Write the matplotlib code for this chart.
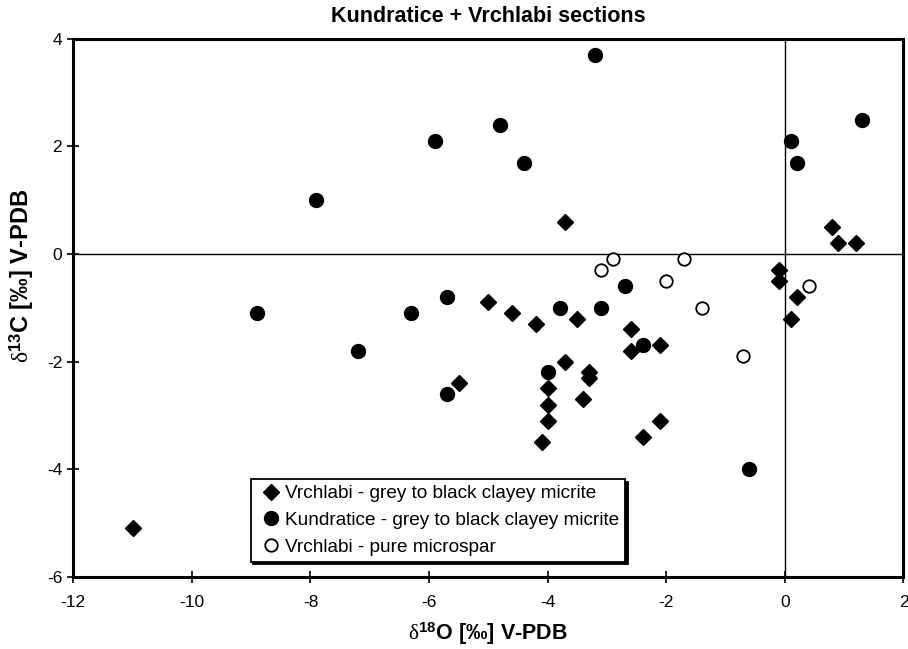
import matplotlib.pyplot as plt

# Vrchlabi - grey to black clayey micrite
vr_o = [-11.0, -5.5, -5.0, -4.6, -4.2, -4.1, -4.0, -4.0, -4.0, -3.7, -3.7, -3.5, -3.4, -3.3,
        -3.3, -2.6, -2.6, -2.4, -2.1, -2.1, -0.1, -0.1, 0.1, 0.2, 0.8, 0.9, 1.2]
vr_c = [-5.1, -2.4, -0.9, -1.1, -1.3, -3.5, -2.5, -2.8, -3.1, 0.6, -2.0, -1.2, -2.7, -2.2,
        -2.3, -1.4, -1.8, -3.4, -1.7, -3.1, -0.3, -0.5, -1.2, -0.8, 0.5, 0.2, 0.2]

# Kundratice - grey to black clayey micrite
ku_o = [-8.9, -7.9, -7.2, -6.3, -5.9, -5.7, -5.7, -4.8, -4.4, -4.0, -3.8, -3.2, -3.1, -2.7,
        -2.4, -0.6, 0.1, 0.2, 1.3]
ku_c = [-1.1, 1.0, -1.8, -1.1, 2.1, -0.8, -2.6, 2.4, 1.7, -2.2, -1.0, 3.7, -1.0, -0.6,
        -1.7, -4.0, 2.1, 1.7, 2.5]

# Vrchlabi - pure microspar
ms_o = [-3.1, -2.9, -2.0, -1.7, -1.4, -0.7, 0.4]
ms_c = [-0.3, -0.1, -0.5, -0.1, -1.0, -1.9, -0.6]

plt.rcParams['font.family'] = ['Liberation Sans', 'DejaVu Sans']
plt.rcParams['axes.unicode_minus'] = False
# serif delta, bold sans digits for the isotope labels
plt.rcParams['mathtext.fontset'] = 'custom'
plt.rcParams['mathtext.rm'] = 'Liberation Serif'
plt.rcParams['mathtext.it'] = 'Liberation Serif:italic'
plt.rcParams['mathtext.bf'] = 'Liberation Sans:bold'

fig = plt.figure(figsize=(9.08, 6.49), dpi=100)
ax = fig.add_axes([0.0807, 0.1114, 0.9143, 0.8286])

ax.axhline(0, color='black', lw=1.0, zorder=1)
ax.axvline(0, color='black', lw=1.0, zorder=1)

ax.plot(vr_o, vr_c, ls='none', marker='D', ms=7.8, color='black',
        label='Vrchlabi - grey to black clayey micrite', zorder=3)
ax.plot(ku_o, ku_c, ls='none', marker='o', ms=10, color='black',
        label='Kundratice - grey to black clayey micrite', zorder=3)
ax.plot(ms_o, ms_c, ls='none', marker='o', ms=9, mfc='white', mec='black', mew=1.3,
        label='Vrchlabi - pure microspar', zorder=3)

ax.set_xlim(-12, 2)
ax.set_ylim(-6, 4)
ax.set_xticks(range(-12, 3, 2))
ax.set_yticks(range(-6, 5, 2))
ax.tick_params(direction='inout', length=8, width=1.2, labelsize=12.5, colors='black')
ax.tick_params(axis='x', pad=9)
ax.tick_params(axis='y', pad=4)
for s in ax.spines.values():
    s.set_linewidth(2.2)

ax.set_title('Kundratice + Vrchlabi sections', fontsize=15.5, fontweight='bold', pad=12)
ax.set_xlabel(r'$\mathrm{\delta}^{\mathbf{18}}$O [‰] V-PDB', fontsize=15.5, fontweight='bold', labelpad=8)
ax.set_ylabel(r'$\mathrm{\delta}^{\mathbf{13}}$C [‰] V-PDB', fontsize=17, fontweight='bold')
ax.yaxis.set_label_coords(-0.045, 0.56)

leg = ax.legend(loc='lower left', bbox_to_anchor=(0.2137, 0.028), fontsize=13.7,
                frameon=True, fancybox=False, edgecolor='black', framealpha=1,
                shadow={'color': 'black', 'alpha': 1}, handlelength=1.5,
                handletextpad=0.0, borderpad=0.3, labelspacing=0.5, borderaxespad=0)
leg.get_frame().set_linewidth(1.3)

fig.savefig('out.png', dpi=100)
